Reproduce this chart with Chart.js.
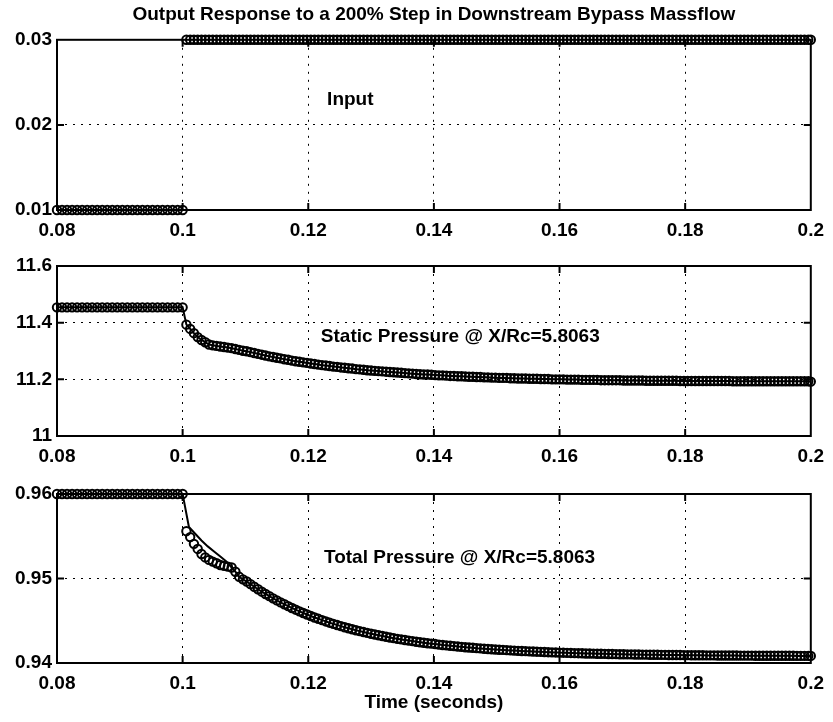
<!DOCTYPE html>
<html>
<head>
<meta charset="utf-8">
<script src="https://cdn.jsdelivr.net/npm/chart.js@4.4.0/dist/chart.umd.min.js"></script>
<style>
html, body { margin: 0; padding: 0; background: #fff; }
#wrap { position: relative; width: 833px; height: 722px; overflow: hidden; }
#wrap canvas { position: absolute; left: 0; }
</style>
</head>
<body>
<div id="wrap">
  <canvas id="c1" width="833" height="240" style="top:0px"></canvas>
  <canvas id="c2" width="833" height="230" style="top:240px"></canvas>
  <canvas id="c3" width="833" height="252" style="top:470px"></canvas>
</div>
<script>
// ---------------- DATA ----------------
const chartTitle = 'Output Response to a 200% Step in Downstream Bypass Massflow';
const xAxisTitle = 'Time (seconds)';

const xTickValues = [0.08, 0.1, 0.12, 0.14, 0.16, 0.18, 0.2];
const xTickLabels = ['0.08', '0.1', '0.12', '0.14', '0.16', '0.18', '0.2'];

const inputTickValues = [0.01, 0.02, 0.03];
const inputTickLabels = ['0.01', '0.02', '0.03'];
const staticTickValues = [11, 11.2, 11.4, 11.6];
const staticTickLabels = ['11', '11.2', '11.4', '11.6'];
const totalTickValues = [0.94, 0.95, 0.96];
const totalTickLabels = ['0.94', '0.95', '0.96'];

const annotationTexts = ['Input', 'Static Pressure @ X/Rc=5.8063', 'Total Pressure @ X/Rc=5.8063'];
const annotationX = [0.123, 0.122, 0.1225];
const annotationY = [0.0229, 11.349, 0.9525];

// sample times (seconds)
const time = [
  0.08, 0.0808, 0.0816, 0.0824, 0.0832, 0.084, 0.0848, 0.0856, 0.0864, 0.0872,
  0.088, 0.0888, 0.0896, 0.0904, 0.0912, 0.092, 0.0928, 0.0936, 0.0944, 0.0952,
  0.096, 0.0968, 0.0976, 0.0984, 0.0992, 0.1,
  0.1006, 0.1012, 0.1018, 0.1024, 0.103, 0.1036, 0.1042, 0.1048, 0.1054, 0.106,
  0.1066, 0.1072, 0.1078, 0.1084, 0.109, 0.1096, 0.1102, 0.1108, 0.1114, 0.112,
  0.1126, 0.1132, 0.1138, 0.1144, 0.115, 0.1156, 0.1162, 0.1168, 0.1174, 0.118,
  0.1186, 0.1192, 0.1198, 0.1204, 0.121, 0.1216, 0.1222, 0.1228, 0.1234, 0.124,
  0.1246, 0.1252, 0.1258, 0.1264, 0.127, 0.1276, 0.1282, 0.1288, 0.1294, 0.13,
  0.1306, 0.1312, 0.1318, 0.1324, 0.133, 0.1336, 0.1342, 0.1348, 0.1354, 0.136,
  0.1366, 0.1372, 0.1378, 0.1384, 0.139, 0.1396, 0.1402, 0.1408, 0.1414, 0.142,
  0.1426, 0.1432, 0.1438, 0.1444, 0.145, 0.1456, 0.1462, 0.1468, 0.1474, 0.148,
  0.1486, 0.1492, 0.1498, 0.1504, 0.151, 0.1516, 0.1522, 0.1528, 0.1534, 0.154,
  0.1546, 0.1552, 0.1558, 0.1564, 0.157, 0.1576, 0.1582, 0.1588, 0.1594, 0.16,
  0.1606, 0.1612, 0.1618, 0.1624, 0.163, 0.1636, 0.1642, 0.1648, 0.1654, 0.166,
  0.1666, 0.1672, 0.1678, 0.1684, 0.169, 0.1696, 0.1702, 0.1708, 0.1714, 0.172,
  0.1726, 0.1732, 0.1738, 0.1744, 0.175, 0.1756, 0.1762, 0.1768, 0.1774, 0.178,
  0.1786, 0.1792, 0.1798, 0.1804, 0.181, 0.1816, 0.1822, 0.1828, 0.1834, 0.184,
  0.1846, 0.1852, 0.1858, 0.1864, 0.187, 0.1876, 0.1882, 0.1888, 0.1894, 0.19,
  0.1906, 0.1912, 0.1918, 0.1924, 0.193, 0.1936, 0.1942, 0.1948, 0.1954, 0.196,
  0.1966, 0.1972, 0.1978, 0.1984, 0.199, 0.1996, 0.2
];

// bypass massflow input
const inputValues = [
  0.01, 0.01, 0.01, 0.01, 0.01, 0.01, 0.01, 0.01, 0.01, 0.01,
  0.01, 0.01, 0.01, 0.01, 0.01, 0.01, 0.01, 0.01, 0.01, 0.01,
  0.01, 0.01, 0.01, 0.01, 0.01, 0.01,
  0.03, 0.03, 0.03, 0.03, 0.03, 0.03, 0.03, 0.03, 0.03, 0.03,
  0.03, 0.03, 0.03, 0.03, 0.03, 0.03, 0.03, 0.03, 0.03, 0.03,
  0.03, 0.03, 0.03, 0.03, 0.03, 0.03, 0.03, 0.03, 0.03, 0.03,
  0.03, 0.03, 0.03, 0.03, 0.03, 0.03, 0.03, 0.03, 0.03, 0.03,
  0.03, 0.03, 0.03, 0.03, 0.03, 0.03, 0.03, 0.03, 0.03, 0.03,
  0.03, 0.03, 0.03, 0.03, 0.03, 0.03, 0.03, 0.03, 0.03, 0.03,
  0.03, 0.03, 0.03, 0.03, 0.03, 0.03, 0.03, 0.03, 0.03, 0.03,
  0.03, 0.03, 0.03, 0.03, 0.03, 0.03, 0.03, 0.03, 0.03, 0.03,
  0.03, 0.03, 0.03, 0.03, 0.03, 0.03, 0.03, 0.03, 0.03, 0.03,
  0.03, 0.03, 0.03, 0.03, 0.03, 0.03, 0.03, 0.03, 0.03, 0.03,
  0.03, 0.03, 0.03, 0.03, 0.03, 0.03, 0.03, 0.03, 0.03, 0.03,
  0.03, 0.03, 0.03, 0.03, 0.03, 0.03, 0.03, 0.03, 0.03, 0.03,
  0.03, 0.03, 0.03, 0.03, 0.03, 0.03, 0.03, 0.03, 0.03, 0.03,
  0.03, 0.03, 0.03, 0.03, 0.03, 0.03, 0.03, 0.03, 0.03, 0.03,
  0.03, 0.03, 0.03, 0.03, 0.03, 0.03, 0.03, 0.03, 0.03, 0.03,
  0.03, 0.03, 0.03, 0.03, 0.03, 0.03, 0.03, 0.03, 0.03, 0.03,
  0.03, 0.03, 0.03, 0.03, 0.03, 0.03, 0.03
];

// static pressure at X/Rc = 5.8063
const staticPressure = [
  11.454, 11.454, 11.454, 11.454, 11.454, 11.454, 11.454, 11.454, 11.454, 11.454,
  11.454, 11.454, 11.454, 11.454, 11.454, 11.454, 11.454, 11.454, 11.454, 11.454,
  11.454, 11.454, 11.454, 11.454, 11.454, 11.454,
  11.393, 11.378, 11.363, 11.349, 11.339, 11.331, 11.323, 11.320, 11.318, 11.316,
  11.314, 11.312, 11.310, 11.307, 11.304, 11.301, 11.299, 11.296, 11.293, 11.290,
  11.287, 11.284, 11.281, 11.279, 11.276, 11.274, 11.271, 11.269, 11.266, 11.264,
  11.262, 11.260, 11.258, 11.256, 11.254, 11.252, 11.250, 11.249, 11.247, 11.245,
  11.244, 11.242, 11.241, 11.239, 11.238, 11.236, 11.235, 11.234, 11.232, 11.231,
  11.230, 11.229, 11.228, 11.227, 11.226, 11.225, 11.224, 11.223, 11.222, 11.221,
  11.220, 11.219, 11.218, 11.217, 11.217, 11.216, 11.215, 11.214, 11.214, 11.213,
  11.212, 11.212, 11.211, 11.211, 11.210, 11.209, 11.209, 11.208, 11.208, 11.207,
  11.207, 11.206, 11.206, 11.205, 11.205, 11.205, 11.204, 11.204, 11.203, 11.203,
  11.203, 11.202, 11.202, 11.202, 11.201, 11.201, 11.201, 11.200, 11.200, 11.200,
  11.200, 11.199, 11.199, 11.199, 11.199, 11.198, 11.198, 11.198, 11.198, 11.198,
  11.197, 11.197, 11.197, 11.197, 11.197, 11.197, 11.196, 11.196, 11.196, 11.196,
  11.196, 11.196, 11.195, 11.195, 11.195, 11.195, 11.195, 11.195, 11.195, 11.195,
  11.195, 11.194, 11.194, 11.194, 11.194, 11.194, 11.194, 11.194, 11.194, 11.194,
  11.194, 11.194, 11.194, 11.194, 11.194, 11.193, 11.193, 11.193, 11.193, 11.193,
  11.193, 11.193, 11.193, 11.193, 11.193, 11.193, 11.193, 11.193, 11.193, 11.193,
  11.193, 11.193, 11.193, 11.193, 11.193, 11.193, 11.192
];

// total pressure at X/Rc = 5.8063 (circle markers)
const totalPressure = [
  0.96, 0.96, 0.96, 0.96, 0.96, 0.96, 0.96, 0.96, 0.96, 0.96,
  0.96, 0.96, 0.96, 0.96, 0.96, 0.96, 0.96, 0.96, 0.96, 0.96,
  0.96, 0.96, 0.96, 0.96, 0.96, 0.96,
  0.9556, 0.9549, 0.9541, 0.9535, 0.9529, 0.9525, 0.9522, 0.9520, 0.9518, 0.9516,
  0.9515, 0.9514, 0.9513, 0.9508, 0.9502, 0.9499, 0.94964, 0.94933, 0.94902, 0.94873,
  0.94844, 0.94817, 0.94791, 0.94765, 0.94741, 0.94717, 0.94695, 0.94673, 0.94651, 0.94631,
  0.94611, 0.94592, 0.94574, 0.94556, 0.94539, 0.94523, 0.94507, 0.94492, 0.94477, 0.94463,
  0.94449, 0.94436, 0.94423, 0.94411, 0.94399, 0.94388, 0.94377, 0.94366, 0.94356, 0.94346,
  0.94337, 0.94328, 0.94319, 0.94310, 0.94302, 0.94294, 0.94286, 0.94279, 0.94272, 0.94265,
  0.94259, 0.94252, 0.94246, 0.94240, 0.94234, 0.94229, 0.94224, 0.94218, 0.94213, 0.94209,
  0.94204, 0.94200, 0.94195, 0.94191, 0.94187, 0.94184, 0.94180, 0.94176, 0.94173, 0.94169,
  0.94166, 0.94163, 0.94160, 0.94157, 0.94155, 0.94152, 0.94149, 0.94147, 0.94144, 0.94142,
  0.94140, 0.94138, 0.94136, 0.94134, 0.94132, 0.94130, 0.94128, 0.94126, 0.94125, 0.94123,
  0.94122, 0.94120, 0.94119, 0.94117, 0.94116, 0.94115, 0.94113, 0.94112, 0.94111, 0.94110,
  0.94109, 0.94108, 0.94107, 0.94106, 0.94105, 0.94104, 0.94103, 0.94102, 0.94102, 0.94101,
  0.94100, 0.94099, 0.94099, 0.94098, 0.94097, 0.94097, 0.94096, 0.94096, 0.94095, 0.94095,
  0.94094, 0.94094, 0.94093, 0.94093, 0.94092, 0.94092, 0.94091, 0.94091, 0.94090, 0.94090,
  0.94090, 0.94089, 0.94089, 0.94089, 0.94088, 0.94088, 0.94088, 0.94087, 0.94087, 0.94087,
  0.94087, 0.94086, 0.94086, 0.94086, 0.94086, 0.94085, 0.94085, 0.94085, 0.94085, 0.94085,
  0.94085, 0.94085, 0.94084, 0.94084, 0.94084, 0.94084, 0.94084
];

// total pressure solid line just after the step (differs from circles there)
const totalLineTime = [0.101, 0.102, 0.103, 0.104, 0.105, 0.106, 0.107];
const totalLineValues = [0.9561, 0.9553, 0.9545, 0.9538, 0.9532, 0.9526, 0.9520];

// ---------------- CHARTS ----------------
const FONT = "'Liberation Sans', Arial, Helvetica, sans-serif";
Chart.defaults.font.family = FONT;
Chart.defaults.font.size = 19;
Chart.defaults.font.weight = 'bold';
Chart.defaults.color = '#000';

const pts = (xs, ys) => xs.map((t, i) => ({ x: t, y: ys[i] }));

const framePlugin = {
  id: 'frame',
  afterDraw(chart, args, opts) {
    const { ctx, chartArea } = chart;
    const { left, right, top, bottom } = chartArea;
    const xs = chart.scales.x, ys = chart.scales.y;
    ctx.save();
    ctx.strokeStyle = '#000';
    ctx.lineWidth = 2;
    ctx.strokeRect(left, top, right - left, bottom - top);
    ctx.beginPath();
    xs.ticks.forEach((t, i) => {
      if (i === 0 || i === xs.ticks.length - 1) return;
      const px = xs.getPixelForValue(t.value);
      ctx.moveTo(px, bottom); ctx.lineTo(px, bottom - 7);
      ctx.moveTo(px, top); ctx.lineTo(px, top + 7);
    });
    ys.ticks.forEach((t, i) => {
      if (i === 0 || i === ys.ticks.length - 1) return;
      const py = ys.getPixelForValue(t.value);
      ctx.moveTo(left, py); ctx.lineTo(left + 7, py);
      ctx.moveTo(right, py); ctx.lineTo(right - 7, py);
    });
    ctx.stroke();
    if (opts && opts.text) {
      ctx.font = 'bold 19px ' + FONT;
      ctx.fillStyle = '#000';
      ctx.textAlign = 'left';
      ctx.textBaseline = 'middle';
      ctx.fillText(opts.text, xs.getPixelForValue(opts.x), ys.getPixelForValue(opts.y));
    }
    ctx.restore();
  }
};

function makeChart(id, cfg) {
  const datasets = [];
  if (cfg.lineData) {
    datasets.push({
      data: cfg.lineData, showLine: true, borderColor: '#000', borderWidth: 2,
      pointRadius: 0, clip: false, order: 2
    });
  }
  datasets.push({
    data: cfg.markerData, showLine: false, pointStyle: 'circle', pointRadius: 4.2,
    pointBorderWidth: 2, pointBorderColor: '#000',
    pointBackgroundColor: 'rgba(0,0,0,0)', clip: false, order: 1
  });
  return new Chart(document.getElementById(id), {
    type: 'scatter',
    data: { datasets },
    plugins: [framePlugin],
    options: {
      responsive: false,
      animation: false,
      events: [],
      layout: { padding: { left: 0, right: 19, top: cfg.padTop, bottom: 0 } },
      plugins: {
        legend: { display: false },
        tooltip: { enabled: false },
        title: cfg.title ? {
          display: true, text: cfg.title, fullSize: false,
          font: { size: 19, weight: 'bold' }, color: '#000',
          padding: { top: 3, bottom: 14 }
        } : { display: false },
        frame: cfg.label
      },
      scales: {
        x: {
          type: 'linear', min: 0.08, max: 0.2,
          afterBuildTicks: s => { s.ticks = xTickValues.map(v => ({ value: v })); },
          afterFit: s => { s.height = cfg.xHeight; },
          grid: { color: '#000', lineWidth: 1, drawTicks: false },
          border: { display: false, dash: [2, 6] },
          ticks: { padding: 9, maxRotation: 0, autoSkip: false, color: '#000',
                   callback: (v, i) => xTickLabels[i] },
          title: cfg.xTitle ? { display: true, text: cfg.xTitle, color: '#000',
                   font: { size: 19, weight: 'bold' }, padding: { top: 0, bottom: 8 } } : { display: false }
        },
        y: {
          type: 'linear', min: cfg.yMin, max: cfg.yMax,
          afterBuildTicks: s => { s.ticks = cfg.yTicks.map(v => ({ value: v })); },
          afterFit: s => { s.width = 57; },
          grid: { color: '#000', lineWidth: 1, drawTicks: false },
          border: { display: false, dash: [2, 6] },
          ticks: { padding: 5, color: '#000', callback: (v, i) => cfg.yLabels[i] }
        }
      }
    }
  });
}

// chart 1: input (markers only)
makeChart('c1', {
  title: chartTitle, padTop: 0, xHeight: 30,
  yMin: 0.01, yMax: 0.03, yTicks: inputTickValues, yLabels: inputTickLabels,
  lineData: null, markerData: pts(time, inputValues),
  label: { text: annotationTexts[0], x: annotationX[0], y: annotationY[0] }
});

// chart 2: static pressure
makeChart('c2', {
  padTop: 26, xHeight: 34,
  yMin: 11, yMax: 11.6, yTicks: staticTickValues, yLabels: staticTickLabels,
  lineData: pts(time, staticPressure), markerData: pts(time, staticPressure),
  label: { text: annotationTexts[1], x: annotationX[1], y: annotationY[1] }
});

// chart 3: total pressure
const totalLine = pts(time, totalPressure).filter(p => p.x <= 0.1)
  .concat(pts(totalLineTime, totalLineValues))
  .concat(pts(time, totalPressure).filter(p => p.x >= 0.1078));
makeChart('c3', {
  padTop: 24, xHeight: 59, xTitle: xAxisTitle,
  yMin: 0.94, yMax: 0.96, yTicks: totalTickValues, yLabels: totalTickLabels,
  lineData: totalLine, markerData: pts(time, totalPressure),
  label: { text: annotationTexts[2], x: annotationX[2], y: annotationY[2] }
});
</script>
</body>
</html>
